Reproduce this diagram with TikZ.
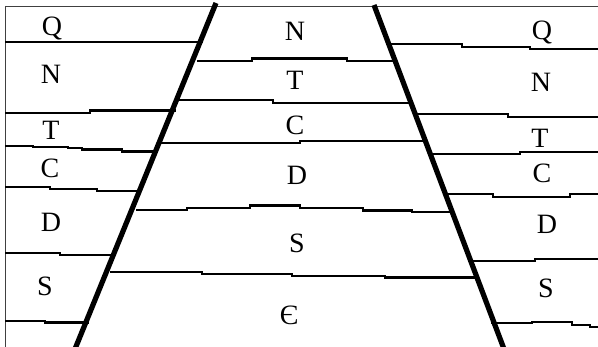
\documentclass[tikz,border=0pt]{standalone}
\usepackage{fontspec}
\setmainfont{Liberation Serif}
\begin{document}
\begin{tikzpicture}[x=1pt,y=-1pt,
  bed/.style={line width=2.3pt},
  frameline/.style={line width=1.3pt, black!75},
  fault/.style={line width=5.2pt},
  lbl/.style={font=\fontsize{28}{30}\selectfont, anchor=base, inner sep=0pt}]
\useasboundingbox (0,0) rectangle (598,347);
% frame
\draw[frameline] (5,6.5) -- (598,6.5);
\draw[frameline] (5.5,6) -- (5.5,347);
% left block
\draw[bed] (5,42) -- (203,42);
\draw[bed] (5,113) -- (90,113) -- (90,110.5) -- (176,110.5);
\draw[bed] (5,146) -- (33,146) -- (33,147) -- (68,147) -- (68,148) -- (82,148) -- (82,149.5) -- (122,149.5) -- (122,151.5) -- (158,151.5);
\draw[bed] (5,187) -- (50,187) -- (50,189) -- (97,189) -- (97,191) -- (142,191);
\draw[bed] (5,253) -- (60,253) -- (60,255) -- (116,255);
\draw[bed] (5,321) -- (45,321) -- (45,322.5) -- (89,322.5);
% middle block
\draw[bed] (197,60.7) -- (252,60.7) -- (252,58.5) -- (347,58.5) -- (347,60.7) -- (397,60.7);
\draw[bed] (175,100) -- (273,100) -- (273,103.3) -- (413,103.3);
\draw[bed] (157,143.3) -- (300,143.3) -- (300,141.3) -- (428,141.3);
\draw[bed] (136,210) -- (187,210) -- (187,208.3) -- (250,208.3) -- (250,205.5) -- (300,205.5) -- (300,208.3) -- (363,208.3) -- (363,210.5) -- (412,210.5) -- (412,212.3) -- (454,212.3);
\draw[bed] (110,271.7) -- (202,271.7) -- (202,274.2) -- (292,274.2) -- (292,276) -- (385,276) -- (385,277.5) -- (479,277.5);
% right block
\draw[bed] (387,44.3) -- (462,44.3) -- (462,46.7) -- (530,46.7) -- (530,49) -- (598,49);
\draw[bed] (413,114.3) -- (508,114.3) -- (508,116.7) -- (598,116.7);
\draw[bed] (428,154) -- (520,154) -- (520,151.7) -- (598,151.7);
\draw[bed] (443,194.3) -- (493,194.3) -- (493,196.7) -- (570,196.7) -- (570,194.3) -- (598,194.3);
\draw[bed] (468,260.7) -- (535,260.7) -- (535,259.3) -- (598,259.3);
\draw[bed] (491,323.3) -- (532,323.3) -- (532,321.7) -- (572,321.7) -- (572,325) -- (590,325) -- (590,326.7) -- (598,326.7);
% faults
\coordinate (lft) at (216,3);
\coordinate (lfb) at (75,349);
\coordinate (rft) at (374,5);
\coordinate (rfb) at (504,349);
\draw[fault] (lft) -- (lfb);
\draw[fault] (rft) -- (rfb);
% labels left
\node[lbl] (lQ) at (52,36) {Q};
\node[lbl] (lN) at (51,84) {N};
\node[lbl] (lT) at (51,140) {T};
\node[lbl] (lC) at (50,178) {C};
\node[lbl] (lD) at (51,232) {D};
\node[lbl] (lS) at (45,296) {S};
% labels middle
\node[lbl] (mN) at (295,41) {N};
\node[lbl] (mT) at (295,90) {T};
\node[lbl] (mC) at (295,135) {C};
\node[lbl] (mD) at (297,185) {D};
\node[lbl] (mS) at (297,253) {S};
\node[lbl] (mE) at (289,325) {Є};
% labels right
\node[lbl] (rQ) at (542,40) {Q};
\node[lbl] (rN) at (541,92) {N};
\node[lbl] (rT) at (540,148) {T};
\node[lbl] (rC) at (542,183) {C};
\node[lbl] (rD) at (547,234) {D};
\node[lbl] (rS) at (546,298) {S};
\end{tikzpicture}
\end{document}
